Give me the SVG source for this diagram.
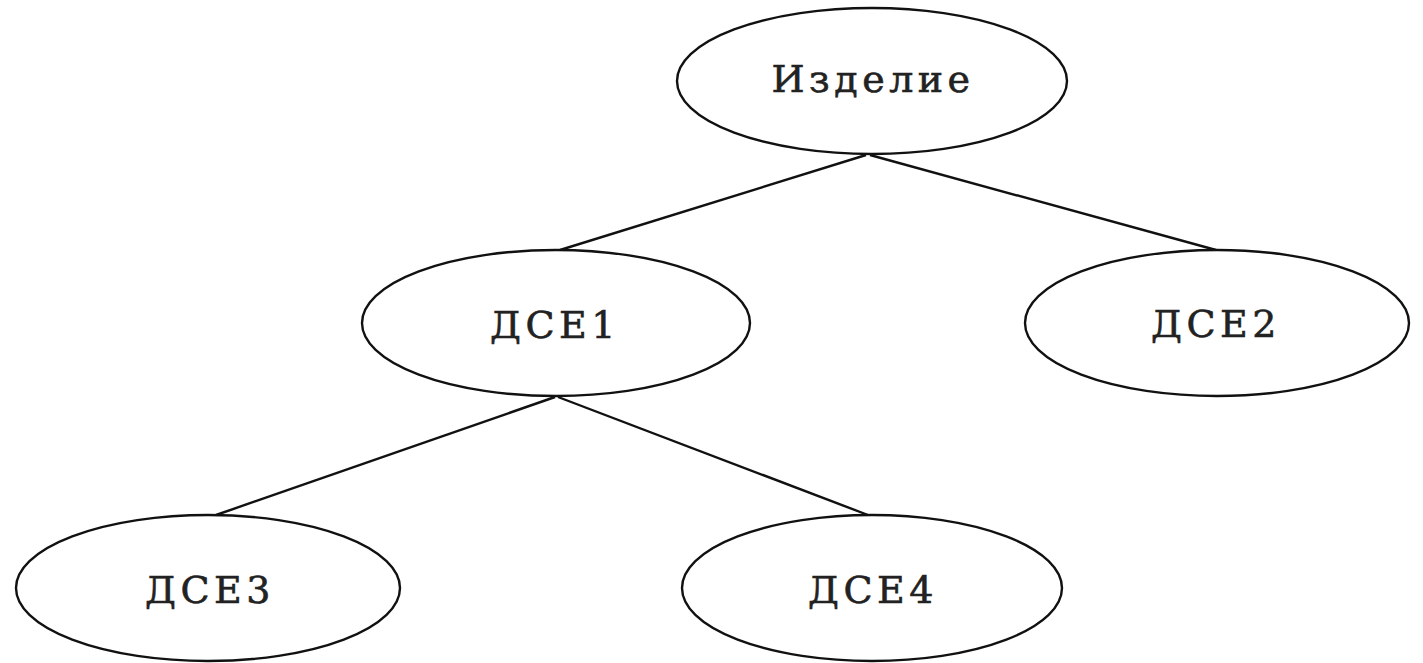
<svg xmlns="http://www.w3.org/2000/svg" width="1423" height="663" viewBox="0 0 1423 663">
<style>
.n ellipse{fill:#fff;stroke:#111;stroke-width:2.4}
.n text{font-family:"DejaVu Serif","Liberation Serif",serif;font-size:38px;fill:#222;stroke:#222;stroke-width:0.6;text-anchor:middle;letter-spacing:4.5px}
#edges line{stroke:#111;stroke-width:2.4}
</style>
<rect width="1423" height="663" fill="#fff"/>
<g id="edges">
<line x1="866" y1="155" x2="560" y2="250"/>
<line x1="870" y1="155" x2="1216" y2="250"/>
<line x1="555" y1="397" x2="216" y2="515"/>
<line x1="558" y1="397" x2="868" y2="515"/>
</g>
<g id="izdelie" class="n"><ellipse cx="872" cy="81" rx="195" ry="73"/><text x="873" y="92">Изделие</text></g>
<g id="dse1" class="n"><ellipse cx="556" cy="323" rx="194" ry="73"/><text x="555" y="338">ДСЕ1</text></g>
<g id="dse2" class="n"><ellipse cx="1217" cy="323" rx="192" ry="73"/><text x="1216" y="337">ДСЕ2</text></g>
<g id="dse3" class="n"><ellipse cx="208" cy="588" rx="192" ry="73"/><text x="210" y="603">ДСЕ3</text></g>
<g id="dse4" class="n"><ellipse cx="872" cy="588" rx="190" ry="73"/><text x="873" y="603">ДСЕ4</text></g>
</svg>
